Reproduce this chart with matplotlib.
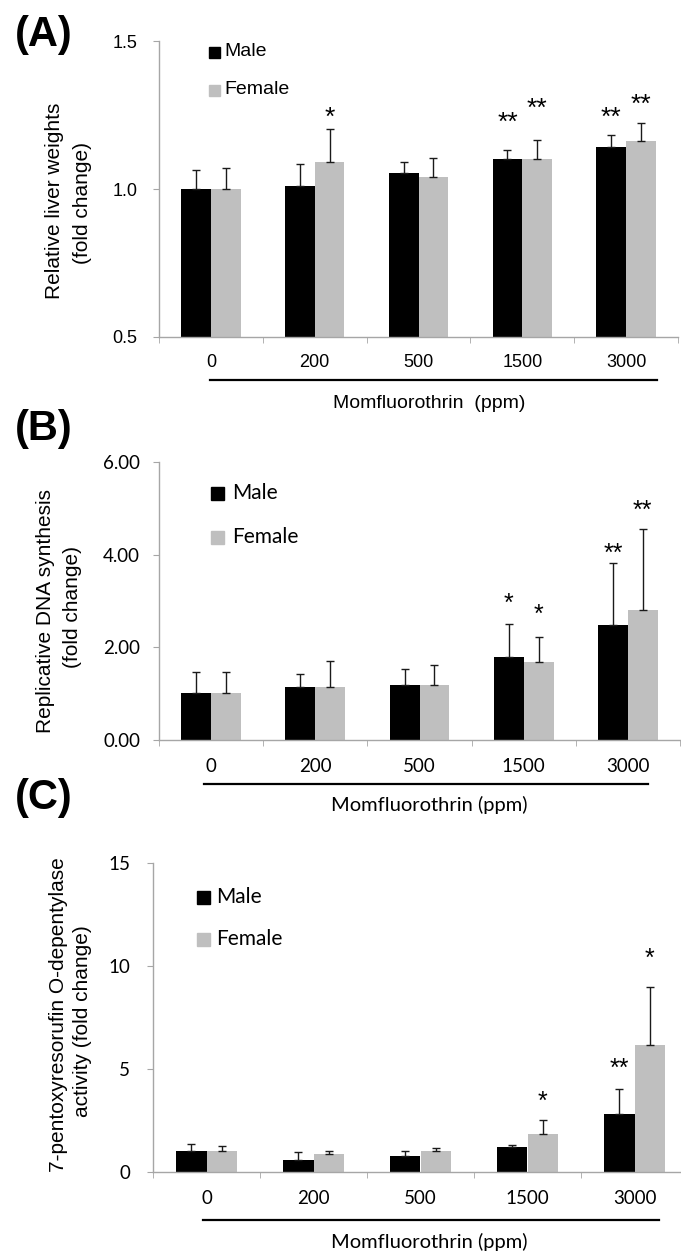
import numpy as np
import matplotlib
matplotlib.use('Agg')
import matplotlib.pyplot as plt
from matplotlib.patches import Rectangle
from matplotlib.lines import Line2D

# Data
doses = ['0', '200', '500', '1500', '3000']

# (A) relative liver weights
liver_male = [1.00, 1.009, 1.053, 1.100, 1.142]
liver_male_err = [0.063, 0.074, 0.039, 0.032, 0.042]
liver_female = [1.00, 1.092, 1.042, 1.100, 1.162]
liver_female_err = [0.072, 0.112, 0.062, 0.064, 0.062]
liver_stars = [(1, 'F', '*', 1.260), (3, 'M', '**', 1.243), (3, 'F', '**', 1.291),
               (4, 'M', '**', 1.260), (4, 'F', '**', 1.304)]

# (B) replicative DNA synthesis
dna_male = [1.01, 1.14, 1.18, 1.785, 2.475]
dna_male_err = [0.46, 0.29, 0.36, 0.715, 1.335]
dna_female = [1.01, 1.15, 1.18, 1.69, 2.81]
dna_female_err = [0.46, 0.56, 0.43, 0.53, 1.74]
dna_stars = [(3, 'M', '*', 3.06), (3, 'F', '*', 2.83),
             (4, 'M', '**', 4.14), (4, 'F', '**', 5.07)]

# (C) PROD activity
prod_male = [1.00, 0.58, 0.79, 1.20, 2.80]
prod_male_err = [0.36, 0.41, 0.23, 0.11, 1.21]
prod_female = [1.00, 0.89, 1.00, 1.86, 6.18]
prod_female_err = [0.24, 0.14, 0.15, 0.65, 2.80]
prod_stars = [(3, 'F', '*', 3.69), (4, 'M', '**', 5.29), (4, 'F', '*', 10.63)]

W, H = 681, 1253
ARIAL = 'Liberation Sans'
CALIBRI = 'Lato'
MALE_C = '#000000'
FEMALE_C = '#bfbfbf'
SPINE_C = '#a6a6a6'

fig = plt.figure(figsize=(W / 100, H / 100), dpi=100)


def fx(px):
    return px / W


def fy(py):
    return 1 - py / H


def panel(box, ylim, yticks, yticklabels, male, male_err, female, female_err,
          stars, font, fsize, ypad, xpad, bar_w=0.286, star_size=19):
    left, top, right, bottom = box
    ax = fig.add_axes([fx(left), fy(bottom), (right - left) / W, (bottom - top) / H])
    ax.set_xlim(0, 5)
    ax.set_ylim(*ylim)
    centers = np.arange(len(doses)) + 0.5
    xm = centers - bar_w / 2
    xf = centers + bar_w / 2
    ax.bar(xm, male, width=bar_w, color=MALE_C, zorder=2)
    ax.bar(xf, female, width=bar_w, color=FEMALE_C, zorder=2)
    ax.errorbar(xm, male, yerr=[np.zeros(5), male_err], fmt='none', ecolor='#1a1a1a',
                elinewidth=1, capsize=3, capthick=1, zorder=3)
    ax.errorbar(xf, female, yerr=[np.zeros(5), female_err], fmt='none', ecolor='#1a1a1a',
                elinewidth=1, capsize=3, capthick=1, zorder=3)
    # significance marks
    for i, sex, lab, yv in stars:
        xx = xm[i] if sex == 'M' else xf[i]
        ax.annotate(lab, xy=(xx, yv), xytext=(0, -0.22 * star_size), textcoords='offset points',
                    ha='center', va='center', fontsize=star_size, family=ARIAL)
    for s in ['top', 'right']:
        ax.spines[s].set_visible(False)
    for s in ['left', 'bottom']:
        ax.spines[s].set_color(SPINE_C)
        ax.spines[s].set_linewidth(1)
    ax.set_yticks(yticks)
    ax.set_yticklabels(yticklabels, family=font, fontsize=fsize)
    ax.tick_params(axis='y', length=4.5, color=SPINE_C, pad=ypad)
    ax.set_xticks(centers)
    ax.set_xticklabels(doses, family=font, fontsize=fsize)
    ax.tick_params(axis='x', which='major', length=0, pad=xpad)
    ax.set_xticks(np.arange(0, 6), minor=True)
    ax.tick_params(axis='x', which='minor', length=4.5, color=SPINE_C)
    return ax


panel((159, 41, 678, 337), (0.5, 1.5), [0.5, 1.0, 1.5], ['0.5', '1.0', '1.5'],
      liver_male, liver_male_err, liver_female, liver_female_err, liver_stars,
      ARIAL, 13, 11, 12)
panel((159, 462, 680, 740), (0, 6), [0, 2, 4, 6], ['0.00', '2.00', '4.00', '6.00'],
      dna_male, dna_male_err, dna_female, dna_female_err, dna_stars,
      CALIBRI, 13.5, 9, 13, star_size=18)
panel((153, 863, 688, 1172), (0, 15), [0, 5, 10, 15], ['0', '5', '10', '15'],
      prod_male, prod_male_err, prod_female, prod_female_err, prod_stars,
      CALIBRI, 13.5, 12, 13, bar_w=0.283, star_size=18)

# panel letters
for lab, y in [('(A)', 35), ('(B)', 429), ('(C)', 798)]:
    fig.text(fx(44), fy(y), lab, fontsize=30, fontweight='bold', family=ARIAL,
             ha='center', va='center')

# y labels
ylabs = [('Relative liver weights', 54, 201), ('(fold change)', 82, 203),
         ('Replicative DNA synthesis', 46, 611), ('(fold change)', 72, 607),
         ('7-pentoxyresorufin O-depentylase', 58, 1015), ('activity (fold change)', 82, 1021)]
for txt, x, y in ylabs:
    fig.text(fx(x), fy(y), txt, rotation=90, fontsize=15, family=ARIAL,
             ha='center', va='center')

# dose brackets and x labels
for (x0, x1, y), (txt, ty, font, fs) in zip(
        [(210, 657, 380), (204, 648, 784), (203, 659, 1220)],
        [('Momfluorothrin  (ppm)', 404, ARIAL, 14),
         ('Momfluorothrin (ppm)', 805, CALIBRI, 14.5),
         ('Momfluorothrin (ppm)', 1242, CALIBRI, 14.5)]):
    fig.add_artist(Line2D([fx(x0), fx(x1)], [fy(y), fy(y)], color='black', lw=1.6))
    fig.text(fx(429), fy(ty), txt, fontsize=fs, family=font, ha='center', va='center')

# legends
legends = [(214, 52, 90, 11, 224, ARIAL, 14),
           (217, 493, 537, 13, 232, CALIBRI, 15),
           (204, 897, 939, 13, 216, CALIBRI, 15)]
for cx, ym, yf, sz, tx, font, fs in legends:
    for yy, col, name in [(ym, MALE_C, 'Male'), (yf, FEMALE_C, 'Female')]:
        fig.add_artist(Rectangle((fx(cx - sz / 2), fy(yy + sz / 2)), sz / W, sz / H,
                                 color=col, transform=fig.transFigure))
        fig.text(fx(tx), fy(yy), name, fontsize=fs, family=font, ha='left', va='center')

fig.savefig('out.png', dpi=100)
